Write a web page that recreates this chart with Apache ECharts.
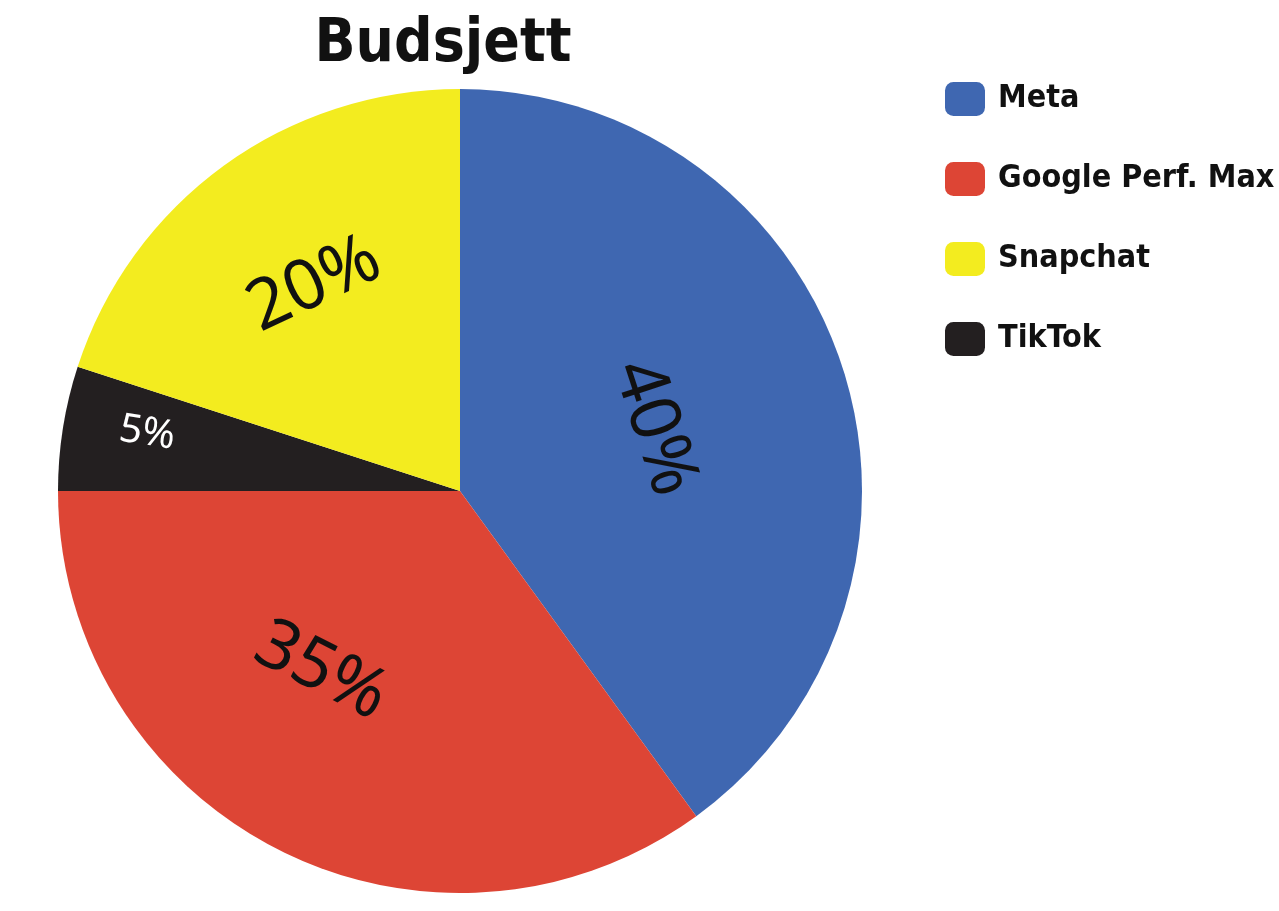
<!DOCTYPE html>
<html>
<head>
<meta charset="utf-8">
<script src="https://cdn.jsdelivr.net/npm/echarts@6/dist/echarts.min.js"></script>
<style>
  html, body { margin: 0; padding: 0; background: #fff; }
  #chart { width: 1279px; height: 911px; }
</style>
</head>
<body>
<div id="chart"></div>
<script>
// data, in clockwise order from 12 o'clock
const kanaler = ['Meta', 'Google Perf. Max', 'TikTok', 'Snapchat'];
const andeler = [40, 35, 5, 20];
const farger = ['#3f67b1', '#dd4535', '#231f20', '#f3ec1f'];
const tegnforklaring = ['Meta', 'Google Perf. Max', 'Snapchat', 'TikTok'];

var myChart = echarts.init(document.getElementById('chart'));

const smalFont = "'DejaVu Sans Condensed', 'DejaVu Sans', sans-serif";

var option = {
    animation: false,
    title: {
        text: 'Budsjett',
        left: 438,
        top: 10,
        textAlign: 'center',
        textStyle: {
            fontFamily: smalFont,
            fontWeight: 'bold',
            fontSize: 60,
            color: '#111'
        }
    },
    legend: {
        orient: 'vertical',
        left: 940,
        top: 77,
        data: tegnforklaring,
        icon: 'roundRect',
        itemWidth: 40,
        itemHeight: 34,
        itemGap: 46,
        textStyle: {
            fontFamily: smalFont,
            fontWeight: 'bold',
            fontSize: 32,
            lineHeight: 34,
            color: '#111',
            padding: [0, 0, 0, 8]
        }
    },
    series: [{
        name: 'Budsjett',
        type: 'pie',
        center: [460, 491],
        radius: 402,
        startAngle: 90,
        clockwise: true,
        silent: true,
        label: {
            show: true,
            position: 'inside',
            rotate: 'tangential',
            formatter: '{c}%',
            color: '#111',
            fontFamily: 'Noto Sans',
            fontSize: 70,
            fontWeight: 'normal'
        },
        labelLine: { show: false },
        labelLayout: function (params) {
            // nudge labels to where the original has them
            if (params.dataIndex === 1) {
                return { dx: -42, dy: 20 };
            }
            if (params.dataIndex === 2) {
                return { dx: -114, dy: -8 };
            }
            if (params.dataIndex === 3) {
                return { dx: -6, dy: -48 };
            }
        },
        data: kanaler.map(function (navn, i) {
            const item = {
                name: navn,
                value: andeler[i],
                itemStyle: { color: farger[i] }
            };
            if (navn === 'TikTok') {
                item.label = {
                    color: '#fff',
                    fontSize: 40,
                    rotate: 'radial'
                };
            }
            if (navn === 'Snapchat') {
                item.label = { rotate: 25 };
            }
            return item;
        })
    }]
};

myChart.setOption(option);
</script>
</body>
</html>
